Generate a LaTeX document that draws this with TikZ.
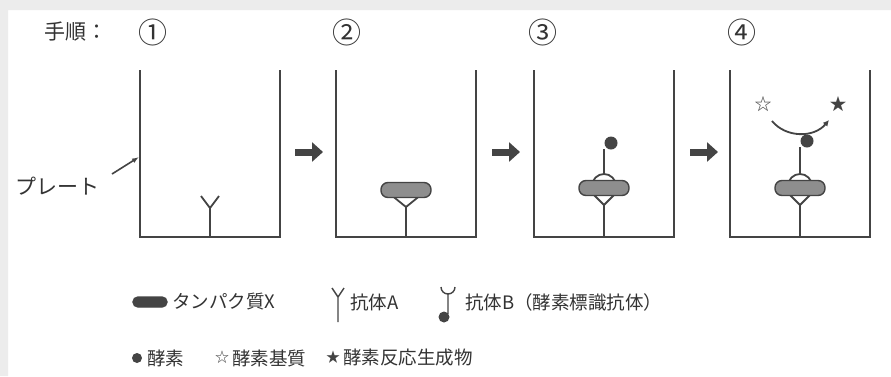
\documentclass[tikz,border=0pt]{standalone}
\usepackage{fontspec}
\setmainfont{Noto Sans CJK JP}
\usetikzlibrary{arrows.meta}

\definecolor{ink}{HTML}{444444}
\definecolor{txt}{HTML}{333333}
\definecolor{protgray}{HTML}{8E8E8E}
\definecolor{rim}{HTML}{ECECEC}

\begin{document}
\begin{tikzpicture}[x=1pt,y=-1pt,
  wall/.style={draw=ink,line width=2.5pt},
  stem/.style={draw=ink,line width=1.8pt},
  prot/.style={draw=ink,fill=protgray,line width=1.4pt,rounded corners=7pt,
    minimum width=50pt,minimum height=15pt,inner sep=0pt},
  enz/.style={circle,fill=ink,inner sep=0pt,minimum size=13pt},
  lab/.style={text=txt,font=\fontsize{18.5}{20}\selectfont,inner sep=0pt},
  big/.style={text=txt,font=\fontsize{21}{23}\selectfont,inner sep=0pt},
  go/.style={ink,line width=7pt,-{Triangle[width=19pt,length=11pt]}}]

\useasboundingbox (0,0) rectangle (891,376);
\fill[white] (0,0) rectangle (891,376);
\fill[rim] (0,0) rectangle (891,10) (0,0) rectangle (8,376);

\node[big,anchor=west] (title) at (44,32) {手順：};

% the four wells
\foreach \x/\nx/\n/\c in {210/153/1/①,406/347/2/②,604/543/3/③,800/742/4/④}{
  \draw[wall] (\x-70,70) |- (\x+70,237) -- (\x+70,70);
  \node[big,font=\fontsize{29}{30}\selectfont] (no\n) at (\nx,32) {\c};
}

\node[big,anchor=west] (plate) at (15,186) {プレート};
\coordinate (lead) at (112,174);
\coordinate (wall1) at (139,157);
\draw[ink,line width=1.6pt,-{Latex[length=7pt,width=5pt]}] (lead) -- (wall1);

% steps between wells
\foreach \a in {295,492,690}
  \draw[go] (\a,152) -- (\a+28,152);

% well 1: antibody A only
\draw[stem] (210,237) -- (210,208) -- (201,196) (210,208) -- (219,196);

% wells 2-4: antibody A holding protein X
\draw[stem] (406,237) -- (406,207);
\draw[stem] (390,194) -- (406,207) -- (422,194);
\foreach \x in {604,800}{
  \draw[stem] (\x,237) -- (\x,205);
  \draw[stem] (\x-13,192) -- (\x,205) -- (\x+13,192);
}
% wells 3-4: enzyme labelled antibody B on top
\foreach \x in {604,800}
  \draw[stem] (\x-12,186) arc (180:360:12);
\draw[stem] (604,174) -- (604,149);
\draw[stem] (800,174) -- (800,147);
\node[enz] (enz3) at (611,143) {};
\node[enz] (enz4) at (807,141) {};

\node[prot] (px2) at (406,190) {};
\node[prot] (px3) at (604,188) {};
\node[prot] (px4) at (800,188) {};

% substrate turned into product
\node[text=ink,font=\fontsize{17}{17}\selectfont,inner sep=0pt] (sub) at (763,104) {☆};
\node[text=ink,font=\fontsize{17}{17}\selectfont,inner sep=0pt] (prod) at (838,104) {★};
\draw[stem,-{Latex[length=6pt,width=6pt]}] (772,121) .. controls (786,138) and (814,138) .. (829,120);

% key
\node[prot,fill=ink,minimum width=34pt,minimum height=10pt,rounded corners=5pt] (keyX) at (150,302) {};
\node[lab,anchor=west] (txtX) at (172,302) {タンパク質X};

\draw[stem,line width=1.4pt] (332,288) -- (338,297) -- (344,288) (338,297) -- (338,322);
\node[lab,anchor=west] (txtA) at (350,302) {抗体A};

\draw[stem,line width=1.4pt] (441,287) arc (180:0:7) (448,294) -- (448,314);
\node[enz,minimum size=11pt] (keyB) at (444,317) {};
\node[lab,anchor=west] (txtB) at (465,302) {抗体B（酵素標識抗体）};

\node[enz,minimum size=10pt] (keyE) at (137,358) {};
\node[lab,anchor=west] (txtE) at (147,358) {酵素};
\node[text=ink,font=\fontsize{14}{14}\selectfont,inner sep=0pt] (keyS) at (222,357) {☆};
\node[lab,anchor=west] (txtS) at (232,358) {酵素基質};
\node[text=ink,font=\fontsize{14}{14}\selectfont,inner sep=0pt] (keyP) at (333,357) {★};
\node[lab,anchor=west] (txtP) at (343,358) {酵素反応生成物};

\end{tikzpicture}
\end{document}
